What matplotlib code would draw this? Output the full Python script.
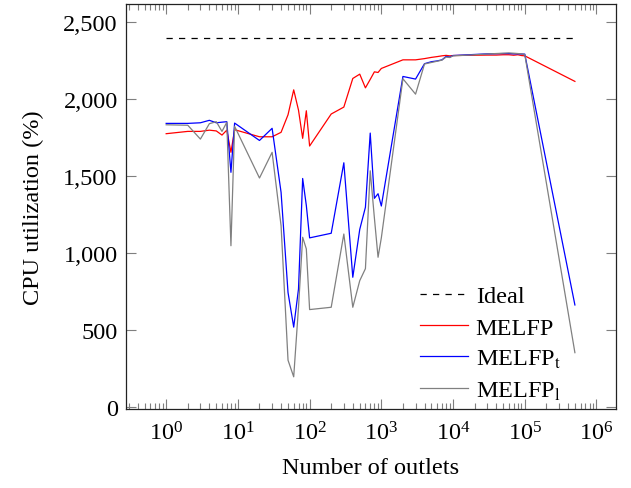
import matplotlib
matplotlib.use("Agg")
import matplotlib.pyplot as plt
from matplotlib.ticker import FuncFormatter, LogLocator, LogFormatterMathtext, NullFormatter

plt.rcParams['font.family'] = ['Liberation Serif', 'DejaVu Serif']
plt.rcParams['mathtext.fontset'] = 'stix'
plt.rcParams['font.size'] = 17.5

# number of outlets (shared by every series)
outlets = [1, 2, 3, 4, 5, 6, 7, 8, 9, 20, 30, 40, 50, 60, 70, 80, 90,
           100, 200, 300, 400, 500, 600, 700, 800, 900, 1000,
           2000, 3000, 4000, 5000, 6000, 7000, 8000, 9000, 10000,
           20000, 30000, 40000, 50000, 60000, 70000, 80000, 90000, 100000, 500000]

melfp = [1777, 1792, 1792, 1800, 1795, 1768, 1800, 1656, 1803, 1757, 1757, 1786, 1900, 2062, 1930, 1747, 1926,
         1697, 1905, 1950, 2136, 2164, 2075, 2130, 2179, 2175, 2201,
         2257, 2257, 2265, 2273, 2278, 2283, 2286, 2283, 2285,
         2287, 2288, 2288, 2290, 2290, 2287, 2290, 2285, 2283, 2117]

melfp_t = [1844, 1844, 1848, 1864, 1848, 1852, 1855, 1526, 1846, 1733, 1812, 1396, 745, 520, 768, 1486, 1310,
           1100, 1130, 1588, 844, 1155, 1299, 1781, 1357, 1387, 1307,
           2149, 2132, 2232, 2245, 2250, 2257, 2279, 2275, 2285,
           2292, 2296, 2297, 2298, 2298, 2296, 2296, 2295, 2294, 664]

melfp_l = [1835, 1832, 1742, 1842, 1855, 1792, 1851, 1049, 1825, 1489, 1656, 1179, 305, 197, 650, 1104, 1028,
           634, 649, 1125, 649, 822, 900, 1536, 1230, 974, 1100,
           2134, 2034, 2230, 2240, 2248, 2255, 2275, 2272, 2283,
           2290, 2295, 2298, 2300, 2302, 2300, 2298, 2296, 2292, 354]

ideal_x = [1, 500000]
ideal_y = [2400, 2400]

fig = plt.figure(figsize=(6.31, 4.89), dpi=100)
ax = fig.add_axes([0.1997, 0.1616, 0.7763, 0.8282])

ax.plot(ideal_x, ideal_y, color='black', lw=0.9, dashes=(5, 5), label='Ideal')
ax.plot(outlets, melfp, color='#ff0000', lw=0.9, label='MELFP')
ax.plot(outlets, melfp_t, color='#0000ff', lw=0.9, label=r'MELFP$_\mathrm{t}$')
ax.plot(outlets, melfp_l, color='#808080', lw=0.9, label=r'MELFP$_\mathrm{l}$')

ax.set_xscale('log')
ax.set_xlim(10 ** -0.56, 10 ** 6.27)
ax.set_ylim(-12, 2620)

ax.xaxis.set_major_locator(LogLocator(base=10, numticks=10))
ax.xaxis.set_major_formatter(LogFormatterMathtext())
ax.xaxis.set_minor_locator(LogLocator(base=10, subs=range(2, 10), numticks=20))
ax.xaxis.set_minor_formatter(NullFormatter())
ax.set_yticks([0, 500, 1000, 1500, 2000, 2500])
ax.yaxis.set_major_formatter(FuncFormatter(lambda v, p: f"{int(v):,}"))

ax.tick_params(which='both', direction='in', top=True, right=True, color='#7f7f7f', width=0.8)
ax.tick_params(which='major', length=7, labelsize=17.5)
ax.tick_params(axis='x', which='major', pad=9)
ax.tick_params(axis='y', which='major', pad=6)
ax.tick_params(which='minor', length=4)
for s in ax.spines.values():
    s.set_linewidth(0.9)
    s.set_color('#222222')

ax.set_xlabel('Number of outlets', fontsize=17.5, labelpad=9)
ax.set_ylabel('CPU utilization (%)', fontsize=17.5, labelpad=14)

ax.legend(loc='lower left', bbox_to_anchor=(0.57, -0.018), frameon=False, fontsize=17.5,
          handlelength=2.0, handletextpad=0.3, labelspacing=0.38, borderaxespad=0.2)

fig.savefig('out.png', dpi=100)
